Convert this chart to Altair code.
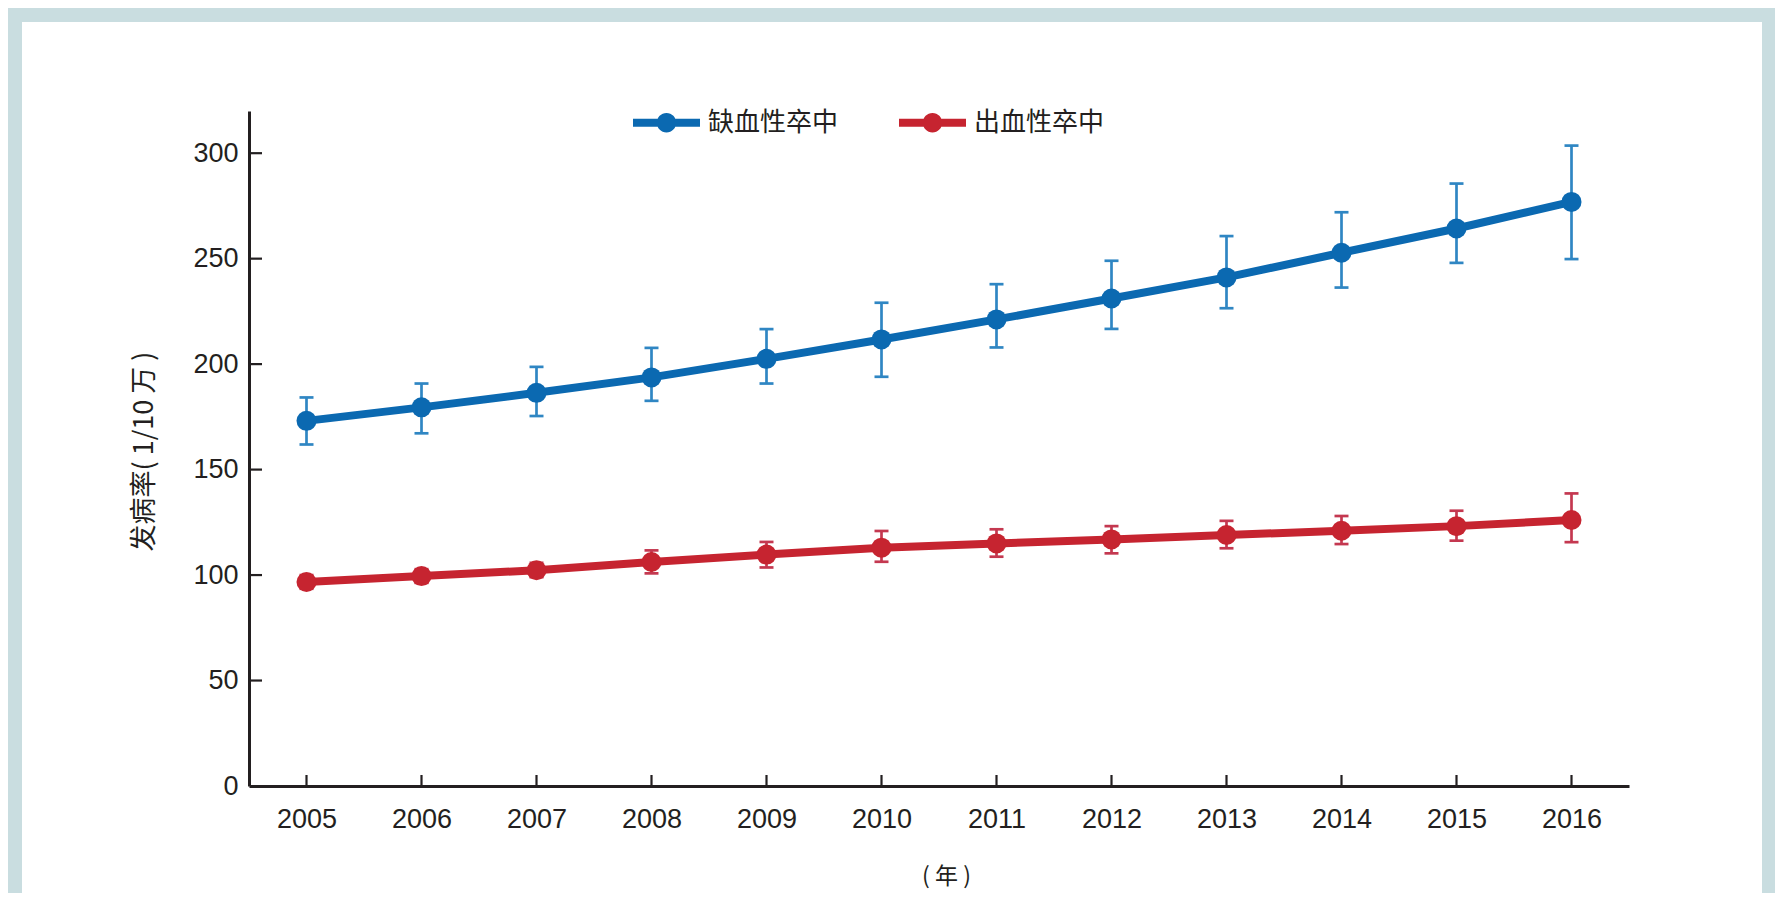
import altair as alt
import pandas as pd

# ---------------- data ----------------
years = list(range(2005, 2017))
series_names = ["缺血性卒中", "出血性卒中"]

ischemic = [173.1, 179.5, 186.4, 193.7, 202.5, 211.7, 221.2, 231.1, 241.1, 252.8, 264.3, 276.9]
ischemic_low = [161.9, 167.2, 175.4, 182.6, 190.8, 194.0, 207.9, 216.7, 226.5, 236.3, 248.0, 249.8]
ischemic_high = [184.2, 190.8, 198.7, 207.7, 216.6, 229.1, 237.9, 249.0, 260.7, 272.0, 285.6, 303.6]

hemorrhagic = [96.7, 99.5, 102.3, 106.2, 109.7, 113.0, 115.0, 116.9, 119.0, 121.0, 123.2, 126.1]
hemorrhagic_low = [93.5, 96.3, 99.0, 100.8, 103.6, 106.3, 108.7, 110.3, 112.7, 114.7, 116.3, 115.6]
hemorrhagic_high = [100.0, 102.8, 105.8, 111.7, 115.7, 120.9, 121.7, 123.2, 125.7, 128.0, 130.5, 138.7]

y_ticks = [0, 50, 100, 150, 200, 250, 300]
x_title = "( 年 )"
y_title = "发病率( 1/10 万 )"

line_colors = ["#0b69b1", "#c62430"]
err_colors = ["#2f86c3", "#c43850"]

# ---------------- table ----------------
rows = []
for name, vals, lows, highs, lc, ec in [
    (series_names[0], ischemic, ischemic_low, ischemic_high, line_colors[0], err_colors[0]),
    (series_names[1], hemorrhagic, hemorrhagic_low, hemorrhagic_high, line_colors[1], err_colors[1]),
]:
    for yr, v, lo, hi in zip(years, vals, lows, highs):
        rows.append({"year": yr, "series": name, "value": v, "low": lo, "high": hi,
                     "lcolor": lc, "ecolor": ec})
df = pd.DataFrame(rows)

# ---------------- layout ----------------
W, H = 1380, 675
PAD_L, PAD_T = 241, 103
TOTAL_W, TOTAL_H = 1767, 885
PAD_R = TOTAL_W - PAD_L - W
PAD_B = TOTAL_H - PAD_T - H

INK = "#231f20"
FRAME = "#c9dde0"
LAT = "Liberation Sans"
CJK = "Noto Sans CJK SC"

xscale = alt.Scale(domain=[2004.5, 2016.5], nice=False, zero=False)
yscale = alt.Scale(domain=[0, 320], nice=False, zero=False)

xaxis = alt.Axis(values=years, format="d", title=x_title, grid=False, ticks=False, tickSize=0,
                 domainColor=INK, domainWidth=3, labelFont=LAT, labelFontSize=27,
                 labelColor=INK, labelPadding=20, labelFlush=False, labelOverlap=False,
                 titleFont=CJK, titleFontSize=23, titleFontWeight="normal", titleColor=INK,
                 titleX=697, titleY=90, titleBaseline="middle", titleAlign="center", zindex=1)
yaxis = alt.Axis(values=y_ticks, title=y_title, grid=False, ticks=False, tickSize=0,
                 domainColor=INK, domainWidth=3, labelFont=LAT, labelFontSize=27,
                 labelColor=INK, labelPadding=11, labelOverlap=False, labelFlush=False,
                 titleFont=CJK, titleFontSize=27, titleFontWeight="normal", titleColor=INK,
                 titleX=-105, titleY=340, titleAngle=270, titleBaseline="middle",
                 titleAlign="center", zindex=1)

X = lambda f="year": alt.X(f"{f}:Q", scale=xscale, axis=xaxis)

legend_path = ("M-1,-0.116 L1,-0.116 L1,0.116 L-1,0.116 Z "
               "M0.29,0 A0.29,0.29 0 1,1 -0.29,0 A0.29,0.29 0 1,1 0.29,0 Z")

# page frame + white panel (decoration behind everything)
frame = alt.Chart(alt.Data(values=[{"p": 1}])).mark_rect(color=FRAME).encode(
    x=alt.value(-PAD_L), x2=alt.value(W + PAD_R), y=alt.value(-PAD_T), y2=alt.value(H + PAD_B)
)
panel = alt.Chart(alt.Data(values=[{"p": 1}])).mark_rect(color="white").encode(
    x=alt.value(-227), x2=alt.value(1513), y=alt.value(-89), y2=alt.value(H + PAD_B)
)

# inward tick marks
xticks = alt.Chart(pd.DataFrame({"year": years})).mark_rule(color=INK, strokeWidth=2.2).encode(
    x=X(), y=alt.value(H), y2=alt.value(H - 11)
)
yticks = alt.Chart(pd.DataFrame({"tick": y_ticks[1:]})).mark_rule(color=INK, strokeWidth=2.2).encode(
    y=alt.Y("tick:Q", scale=yscale, axis=yaxis), x=alt.value(0), x2=alt.value(13)
)

base = alt.Chart(df)

err_bar = base.mark_rule(strokeWidth=2.7).encode(
    x=X(), y=alt.Y("low:Q", scale=yscale, axis=yaxis), y2="high:Q",
    stroke=alt.Stroke("ecolor:N", scale=None)
)
cap_low = base.mark_rule(strokeWidth=2.7, xOffset=-7, x2Offset=7).encode(
    x=X(), x2="year:Q", y=alt.Y("low:Q", scale=yscale, axis=yaxis),
    stroke=alt.Stroke("ecolor:N", scale=None)
)
cap_high = base.mark_rule(strokeWidth=2.7, xOffset=-7, x2Offset=7).encode(
    x=X(), x2="year:Q", y=alt.Y("high:Q", scale=yscale, axis=yaxis),
    stroke=alt.Stroke("ecolor:N", scale=None)
)
lines = base.mark_line(strokeWidth=8).encode(
    x=X(), y=alt.Y("value:Q", scale=yscale, axis=yaxis),
    stroke=alt.Stroke("lcolor:N", scale=None)
)
points = base.mark_circle(size=400, opacity=1).encode(
    x=X(), y=alt.Y("value:Q", scale=yscale, axis=yaxis),
    color=alt.Color("series:N", sort=series_names,
                    scale=alt.Scale(domain=series_names, range=line_colors),
                    legend=alt.Legend(orient="none", legendX=384, legendY=-22,
                                      direction="horizontal", title=None,
                                      symbolType=legend_path, symbolSize=4489,
                                      symbolStrokeWidth=0, symbolOpacity=1,
                                      labelFont=CJK, labelFontSize=26, labelColor=INK,
                                      labelOffset=8, columnPadding=60, padding=0,
                                      zindex=1))
)

chart = alt.layer(frame, panel, xticks, yticks, err_bar, cap_low, cap_high, lines, points).properties(
    width=W, height=H,
    background="white",
    padding={"left": PAD_L, "top": PAD_T, "right": PAD_R, "bottom": PAD_B},
    autosize=alt.AutoSizeParams(type="none"),
).configure_view(stroke=None)

chart.save("out.html", embed_options={"renderer": "svg", "actions": False})
